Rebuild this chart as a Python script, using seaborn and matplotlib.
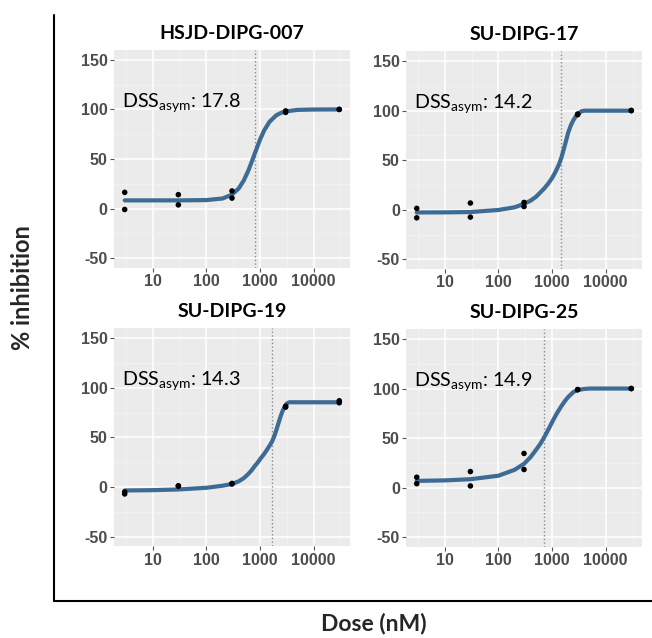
import matplotlib
matplotlib.use("Agg")
import matplotlib.pyplot as plt
import seaborn as sns
from matplotlib.lines import Line2D
from matplotlib.ticker import FixedLocator, MultipleLocator

# Panel names and DSS scores
cell_lines = ["HSJD-DIPG-007", "SU-DIPG-17", "SU-DIPG-19", "SU-DIPG-25"]
dss_scores = ["17.8", "14.2", "14.3", "14.9"]
ec50_lines = [790, 1456, 1680, 698]

# measured points (two replicates per dose)
point_doses = [3, 3, 30, 30, 300, 300, 3000, 3000, 30000, 30000]
points_007 = [16.3, -1.0, 14.0, 3.7, 17.7, 10.5, 97.0, 98.5, 100.0, 100.0]
points_17 = [1.4, -8.1, 6.8, -7.4, 7.4, 3.3, 96.6, 96.0, 100.3, 100.0]
points_19 = [-5.0, -7.0, 1.3, 0.8, 3.0, 3.6, 80.6, 81.5, 85.0, 87.0]
points_25 = [10.5, 4.0, 16.2, 1.7, 34.5, 18.3, 98.8, 99.0, 100.0, 100.0]

# fitted curves
curve_doses_007 = [3, 10, 30, 100, 200, 300, 400, 500, 600, 700, 800, 900, 1000, 1200, 1500, 2000, 2500, 3000, 5000, 10000, 30000]
curve_007 = [8.2, 8.2, 8.2, 8.5, 10.1, 14.0, 20.2, 28.5, 37.8, 47.1, 55.7, 63.0, 69.6, 79.0, 87.5, 94.0, 96.7, 98.0, 99.5, 99.9, 100.0]

curve_doses_17 = [3, 10, 30, 100, 200, 300, 400, 500, 700, 850, 1000, 1100, 1200, 1350, 1500, 1750, 2000, 2250, 2500, 2750, 3000, 3500, 4000, 10000, 30000]
curve_17 = [-2.7, -2.6, -2.3, -0.2, 2.5, 6.0, 9.3, 13.0, 21.0, 26.5, 32.0, 36.0, 40.0, 46.0, 53.0, 66.0, 78.0, 85.5, 90.5, 94.0, 96.5, 99.3, 100.0, 100.0, 100.0]

curve_doses_19 = [3, 10, 30, 100, 200, 300, 400, 500, 600, 700, 780, 900, 1000, 1200, 1400, 1550, 1680, 1850, 2000, 2240, 2400, 2600, 2800, 3000, 3200, 3500, 10000, 30000]
curve_19 = [-3.5, -3.2, -2.5, -0.8, 1.3, 3.0, 5.7, 9.0, 13.0, 17.0, 20.5, 24.5, 28.0, 33.5, 39.0, 42.8, 46.0, 51.5, 57.0, 65.5, 70.8, 76.0, 79.8, 82.5, 84.5, 85.5, 85.5, 85.5]

curve_doses_25 = [3, 10, 30, 100, 200, 300, 400, 500, 600, 700, 850, 1000, 1200, 1500, 1800, 2000, 2500, 3000, 4000, 5000, 10000, 30000]
curve_25 = [6.8, 7.3, 8.5, 12.0, 18.0, 24.0, 31.0, 38.0, 44.0, 50.0, 58.5, 66.0, 74.0, 82.5, 88.5, 91.5, 96.5, 98.5, 99.6, 100.0, 100.0, 100.0]

point_values = [points_007, points_17, points_19, points_25]
curve_x = [curve_doses_007, curve_doses_17, curve_doses_19, curve_doses_25]
curve_y = [curve_007, curve_17, curve_19, curve_25]

sns.set_theme(style="darkgrid", rc={"axes.facecolor": "#EBEBEB", "grid.color": "white"})
plt.rcParams['font.family'] = ['Lato', 'DejaVu Sans']
plt.rcParams['mathtext.fontset'] = 'custom'
plt.rcParams['mathtext.rm'] = 'Lato'
plt.rcParams['mathtext.it'] = 'Lato:italic'

fig = plt.figure(figsize=(6.52, 6.38), dpi=100)
fig.patch.set_facecolor("white")

positions = [
    [0.1748, 0.580, 0.362, 0.3417],
    [0.6227, 0.578, 0.362, 0.3417],
    [0.1748, 0.1435, 0.362, 0.3417],
    [0.6227, 0.1425, 0.362, 0.3417],
]

for i in range(4):
    ax = fig.add_axes(positions[i])
    ax.set_xscale("log")
    sns.lineplot(x=curve_x[i], y=curve_y[i], ax=ax, color="#3D6B93", linewidth=3.0,
                 estimator=None, sort=False, zorder=2)
    sns.scatterplot(x=point_doses, y=point_values[i], ax=ax, color="black", s=16,
                    edgecolor="none", zorder=3)
    ax.axvline(ec50_lines[i], color="#8A8A8A", linestyle=":", linewidth=1.0, zorder=1)

    ax.set_xlim(10 ** 0.277, 10 ** 4.677)
    ax.set_ylim(-60, 160)
    ax.set_xticks([10, 100, 1000, 10000])
    ax.set_xticklabels(["10", "100", "1000", "10000"])
    ax.xaxis.set_minor_locator(FixedLocator([3.162, 31.62, 316.2, 3162, 31623]))
    ax.set_yticks([-50, 0, 50, 100, 150])
    ax.set_yticklabels(["-50", "0", "50", "100", "150"])
    ax.yaxis.set_minor_locator(MultipleLocator(25))
    ax.grid(which="major", color="white", linewidth=1.1)
    ax.grid(which="minor", color="#F5F5F5", linewidth=0.5)
    ax.tick_params(which="major", length=3, width=0.8, color="#555555", pad=1.5,
                   labelsize=11.5, labelcolor="#4D4D4D", bottom=True, left=True)
    ax.tick_params(which="minor", length=0)
    for lab in ax.get_xticklabels() + ax.get_yticklabels():
        lab.set_fontfamily("Liberation Sans")
        lab.set_fontweight("bold")
    for s in ax.spines.values():
        s.set_visible(False)
    ax.set_xlabel("")
    ax.set_ylabel("")
    ax.set_title(cell_lines[i], fontsize=14, fontweight="bold", color="black", pad=8)
    ax.text(0.033, 0.74, r"DSS$_{\mathrm{asym}}$: " + dss_scores[i], transform=ax.transAxes,
            fontsize=14.2, color="black", va="baseline", ha="left")

# outer axis frame
fig.add_artist(Line2D([0.0828, 0.0828], [0.058, 0.9765], color="black", linewidth=1.5))
fig.add_artist(Line2D([0.0828, 1.0], [0.058, 0.058], color="black", linewidth=1.5))
fig.text(0.034, 0.549, "% inhibition", rotation=90, fontsize=17, fontweight="bold",
         ha="center", va="center")
fig.text(0.574, 0.006, "Dose (nM)", fontsize=16.5, fontweight="bold", ha="center", va="bottom")

fig.savefig("out.png", dpi=100, facecolor="white")
